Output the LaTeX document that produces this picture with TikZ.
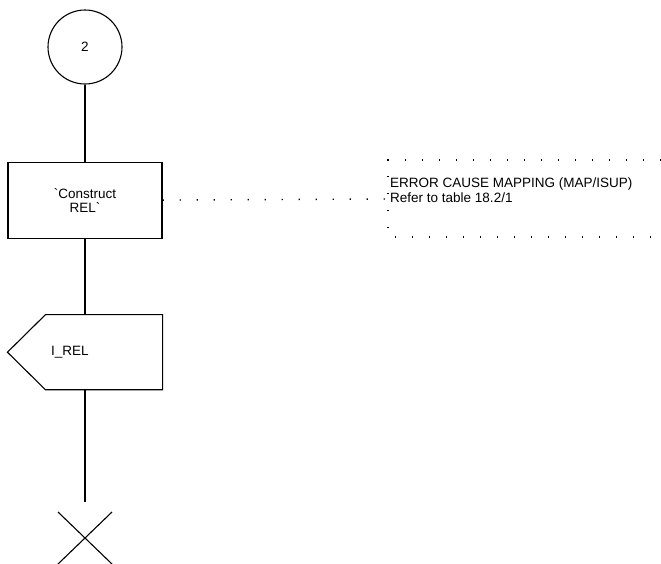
\documentclass[tikz,border=0pt]{standalone}
\usepackage{fontspec}
\setmainfont{Liberation Sans}
\usetikzlibrary{positioning}
\tikzset{
  sdl/.style={draw, line width=1.1pt, inner sep=0pt, font=\fontsize{13.5}{14}\selectfont},
  connector/.style={circle, sdl, minimum size=74pt},
  task/.style={rectangle, sdl, minimum width=154pt, minimum height=76pt, align=center},
  sigout/.style={rectangle, sdl, draw=none, minimum width=154pt, minimum height=74pt,
                 text width=68pt, align=left},
  flow/.style={line width=1.1pt},
  notedots/.style={line width=1.4pt, dash pattern=on 1.4pt off 15.6pt},
  notetext/.style={inner sep=0pt, align=left, font=\fontsize{13.5}{15}\selectfont}
}
\begin{document}
\begin{tikzpicture}[x=1pt, y=1pt, node distance=76pt]
        \useasboundingbox (0,0) rectangle (661,-563);
        \node[connector] (c2) at (85,-47) {2};
        \node[task, below=77pt of c2] (rel) {\textasciigrave Construct\\REL\textasciigrave};
        \node[sigout, below=of rel] (irel) {I\_REL};
        \coordinate (stop) at (85,-502);
        \draw[flow] (c2) -- (rel);
        \draw[flow] (rel) -- (irel);
        \draw[flow] (irel) -- (stop);
        % output signal outline
        \draw[flow] (irel.north east) -- (irel.south east) -- ([xshift=38pt]irel.south west)
          -- (irel.west) -- ([xshift=38pt]irel.north west) -- cycle;
        % stop symbol
        \draw[flow] ([shift={(-27,-10)}]stop) -- ([shift={(27,-62)}]stop);
        \draw[flow] ([shift={(27,-10)}]stop) -- ([shift={(-27,-62)}]stop);
        % comment
        \coordinate (cmt) at (388,-199);
        \draw[notedots] (rel.east) -- (cmt);
        \draw[notedots] (661,-160) -- (388,-160) -- (388,-237) -- (661,-237);
        \node[notetext, anchor=west] (note) at (390,-190)
          {ERROR CAUSE MAPPING (MAP/ISUP)\\Refer to table 18.2/1};
\end{tikzpicture}
\end{document}
